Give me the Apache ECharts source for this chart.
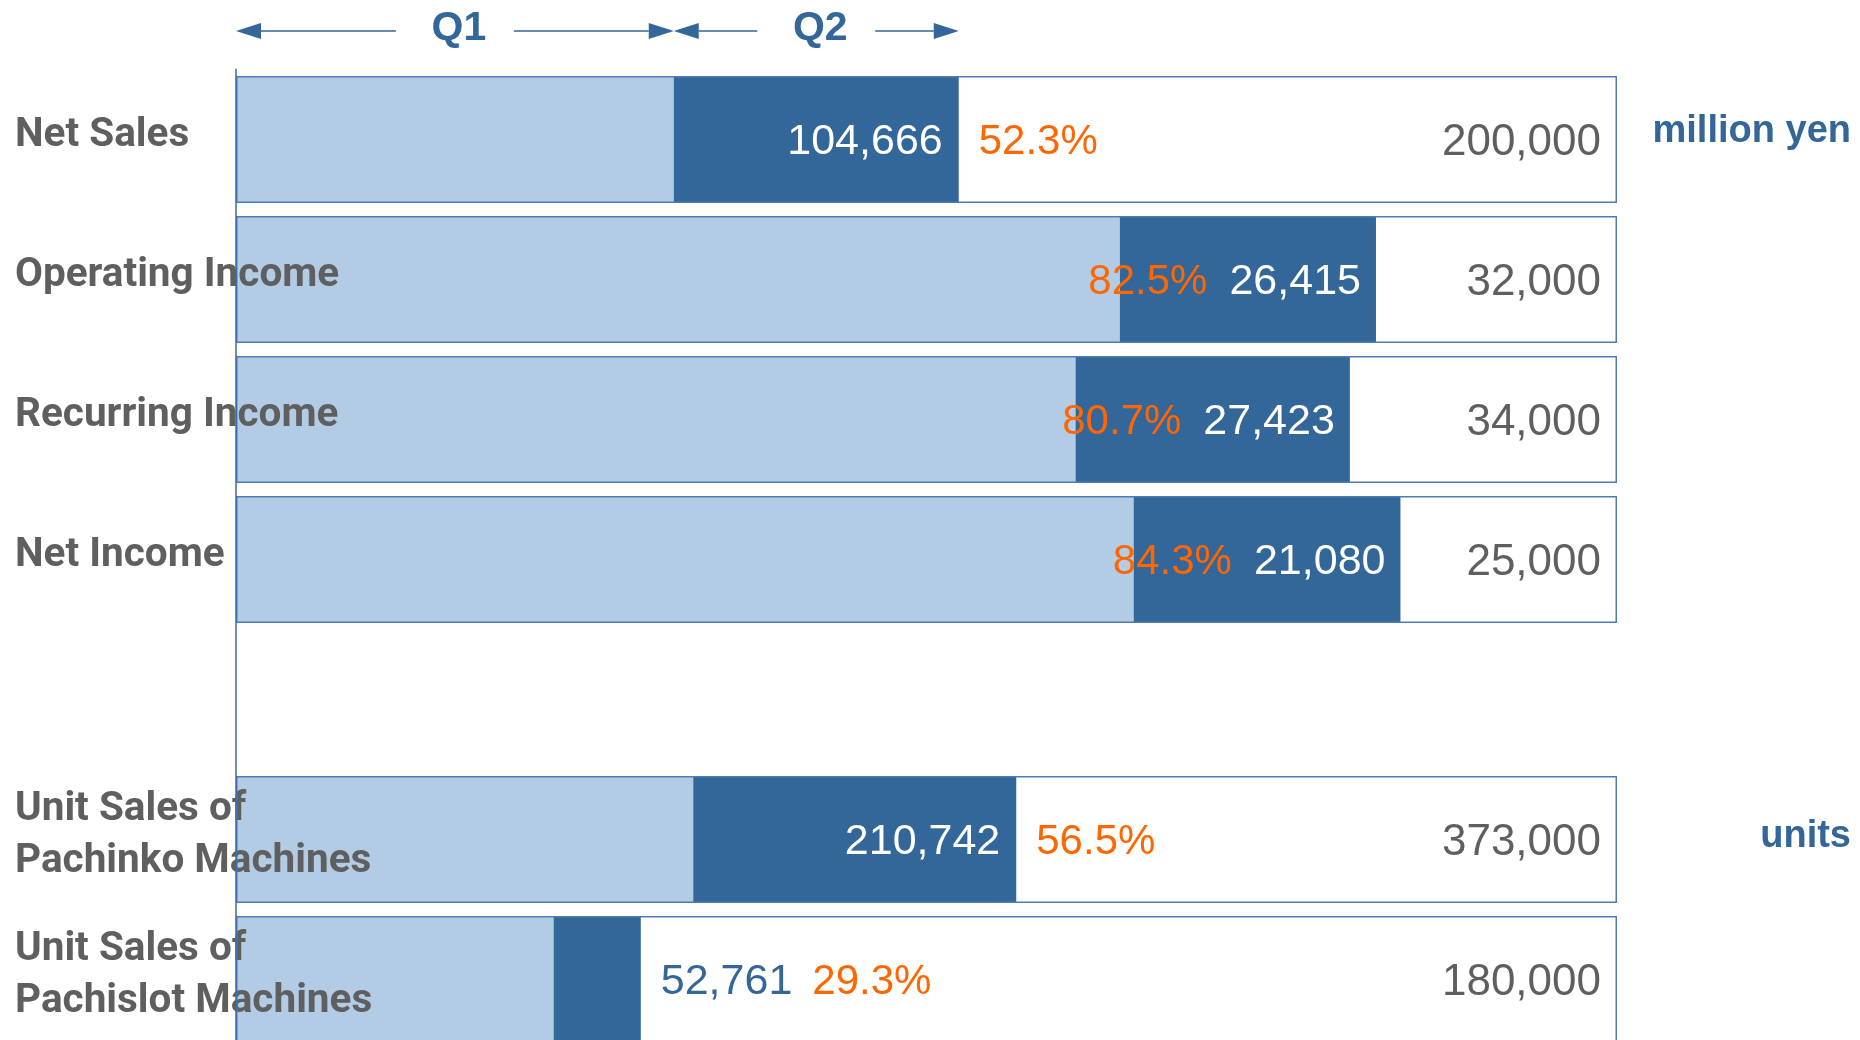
<!DOCTYPE html>
<html>
<head>
<meta charset="utf-8">
<title>Progress</title>
<script src="https://cdn.jsdelivr.net/npm/echarts@6/dist/echarts.min.js"></script>
<style>
  html, body { margin: 0; padding: 0; background: #fff; }
  #main { width: 1860px; height: 1040px; }
</style>
</head>
<body>
<div id="main"></div>
<script>
// categories (empty slot = gap between money rows and unit rows)
const categories = ['Net Sales', 'Operating Income', 'Recurring Income', 'Net Income', '',
  'Unit Sales of\nPachinko Machines', 'Unit Sales of\nPachislot Machines'];
// full-year forecast
const forecast = [200000, 32000, 34000, 25000, null, 373000, 180000];
// Q1 results
const q1Values = [63400, 20480, 20670, 16250, null, 123500, 41400];
// cumulative Q1+Q2 results
const cumValues = [104666, 26415, 27423, 21080, null, 210742, 52761];
// where the progress % goes: before the value, after the bar, or both after the bar
const pctPlacement = ['after', 'before', 'before', 'before', null, 'after', 'trail'];

const LIGHT = '#b3cce5';
const DARK = '#336699';
const ORANGE = '#ff6600';
const GRAY = '#5f5f5f';
const BORDER = '#4f7cb0';
const NUMFONT = '"Liberation Sans", Arial, sans-serif';
const AXIS_X = 236;

let myChart = echarts.init(document.getElementById('main'));

const fmt = v => v.toLocaleString('en-US');
const pctText = i => (cumValues[i] / forecast[i] * 100).toFixed(1) + '%';

let q1Data = [], q2Data = [], restData = [], boxData = [];
categories.forEach((c, i) => {
  if (forecast[i] == null) {
    q1Data.push(null); q2Data.push(null); restData.push(null); boxData.push(null);
    return;
  }
  let q1 = q1Values[i] / forecast[i] * 100;
  let cum = cumValues[i] / forecast[i] * 100;
  q1Data.push(q1);

  let q2Item = { value: cum - q1 };
  let restItem = { value: 100 - cum };
  if (pctPlacement[i] === 'before') {
    q2Item.label = { show: true, position: 'insideRight', distance: 15,
      formatter: '{p|' + pctText(i) + '}{v|' + fmt(cumValues[i]) + '}' };
  } else if (pctPlacement[i] === 'after') {
    q2Item.label = { show: true, position: 'insideRight', distance: 16,
      formatter: '{v|' + fmt(cumValues[i]) + '}' };
    restItem.label = { show: true, position: 'insideLeft', distance: 20,
      formatter: '{p|' + pctText(i) + '}' };
  } else {
    restItem.label = { show: true, position: 'insideLeft', distance: 20,
      formatter: '{b|' + fmt(cumValues[i]) + '}{p|' + pctText(i) + '}' };
  }
  q2Data.push(q2Item);
  restData.push(restItem);
  boxData.push({ value: 100, forecast: forecast[i] });
});

const rich = {
  p: { color: ORANGE, fontSize: 42, fontFamily: NUMFONT, padding: [0, 22, 0, 0] },
  v: { color: '#fff', fontSize: 43, fontFamily: NUMFONT },
  b: { color: DARK, fontSize: 43, fontFamily: NUMFONT, padding: [0, 20, 0, 0] }
};

let option = {
  animation: false,
  grid: { left: AXIS_X, right: 243, top: 69.5, height: 980, outerBoundsMode: 'none' },
  xAxis: { type: 'value', min: 0, max: 100, show: false },
  yAxis: {
    type: 'category',
    inverse: true,
    data: categories,
    z: 5,
    axisLine: { show: true, lineStyle: { color: '#3b6aa0', width: 1.5 } },
    axisTick: { show: false },
    splitLine: { show: false },
    axisLabel: { show: false }
  },
  series: [
    {
      name: 'Q1', type: 'bar', stack: 'result', barWidth: 127, barGap: '-100%',
      itemStyle: { color: LIGHT },
      // category names, drawn from the bar's left edge out to the page margin
      label: {
        show: true,
        position: 'insideLeft',
        distance: 0,
        offset: [-(AXIS_X - 15), -4],
        align: 'left',
        color: GRAY,
        fontSize: 40.5,
        fontWeight: 'bold',
        fontFamily: 'Roboto, "Liberation Sans", sans-serif',
        lineHeight: 52,
        formatter: p => p.name
      },
      emphasis: { disabled: true },
      data: q1Data
    },
    {
      name: 'Q2', type: 'bar', stack: 'result', barWidth: 127, barGap: '-100%',
      itemStyle: { color: DARK },
      label: { rich: rich, offset: [0, 3] },
      emphasis: { disabled: true },
      data: q2Data
    },
    {
      name: 'rest', type: 'bar', stack: 'result', barWidth: 127, barGap: '-100%',
      itemStyle: { color: 'rgba(0,0,0,0)' },
      label: { rich: rich, offset: [0, 3] },
      emphasis: { disabled: true },
      data: restData
    },
    {
      name: 'forecast', type: 'bar', barWidth: 127, barGap: '-100%', z: 3,
      itemStyle: { color: 'rgba(0,0,0,0)', borderColor: BORDER, borderWidth: 1.5 },
      label: {
        show: true, position: 'insideRight', distance: 16, offset: [0, 3],
        color: GRAY, fontSize: 44, fontFamily: NUMFONT,
        formatter: p => fmt(p.data.forecast)
      },
      emphasis: { disabled: true },
      data: boxData
    }
  ]
};

myChart.setOption(option);

// Q1 / Q2 arrows over the Net Sales bar, and unit captions
function arrowSpan(xa, xb, text) {
  let y = 31, cx = (xa + xb) / 2, head = 25, half = 8, gap = 59;
  let lineStyle = { stroke: DARK, lineWidth: 1.5 };
  return [
    { type: 'polygon', shape: { points: [[xa, y], [xa + head, y - half], [xa + head, y + half]] }, style: { fill: DARK } },
    { type: 'polygon', shape: { points: [[xb, y], [xb - head, y - half], [xb - head, y + half]] }, style: { fill: DARK } },
    { type: 'line', shape: { x1: xa + head, y1: y, x2: cx - gap, y2: y }, style: lineStyle },
    { type: 'line', shape: { x1: cx + gap, y1: y, x2: xb - head, y2: y }, style: lineStyle },
    { type: 'text', x: cx + 4, y: 29, style: { text: text, fill: DARK, fontSize: 41, fontWeight: 'bold',
      fontFamily: '"Liberation Sans", Arial, sans-serif', textAlign: 'center', textVerticalAlign: 'middle' } }
  ];
}

let x0 = myChart.convertToPixel({ xAxisIndex: 0 }, 0);
let x1 = myChart.convertToPixel({ xAxisIndex: 0 }, q1Data[0]);
let x2 = myChart.convertToPixel({ xAxisIndex: 0 }, cumValues[0] / forecast[0] * 100);
let yMoney = myChart.convertToPixel({ yAxisIndex: 0 }, categories[0]);
let yUnits = myChart.convertToPixel({ yAxisIndex: 0 }, categories[5]);

let unitStyle = { fill: DARK, fontSize: 38, fontWeight: 'bold',
  fontFamily: '"Liberation Sans", Arial, sans-serif', textAlign: 'right', textVerticalAlign: 'middle' };

myChart.setOption({
  graphic: arrowSpan(x0, x1, 'Q1').concat(arrowSpan(x1, x2, 'Q2')).concat([
    { type: 'text', x: 1851, y: yMoney - 8, style: Object.assign({ text: 'million yen' }, unitStyle) },
    { type: 'text', x: 1851, y: yUnits - 3, style: Object.assign({ text: 'units' }, unitStyle) }
  ])
});
</script>
</body>
</html>
